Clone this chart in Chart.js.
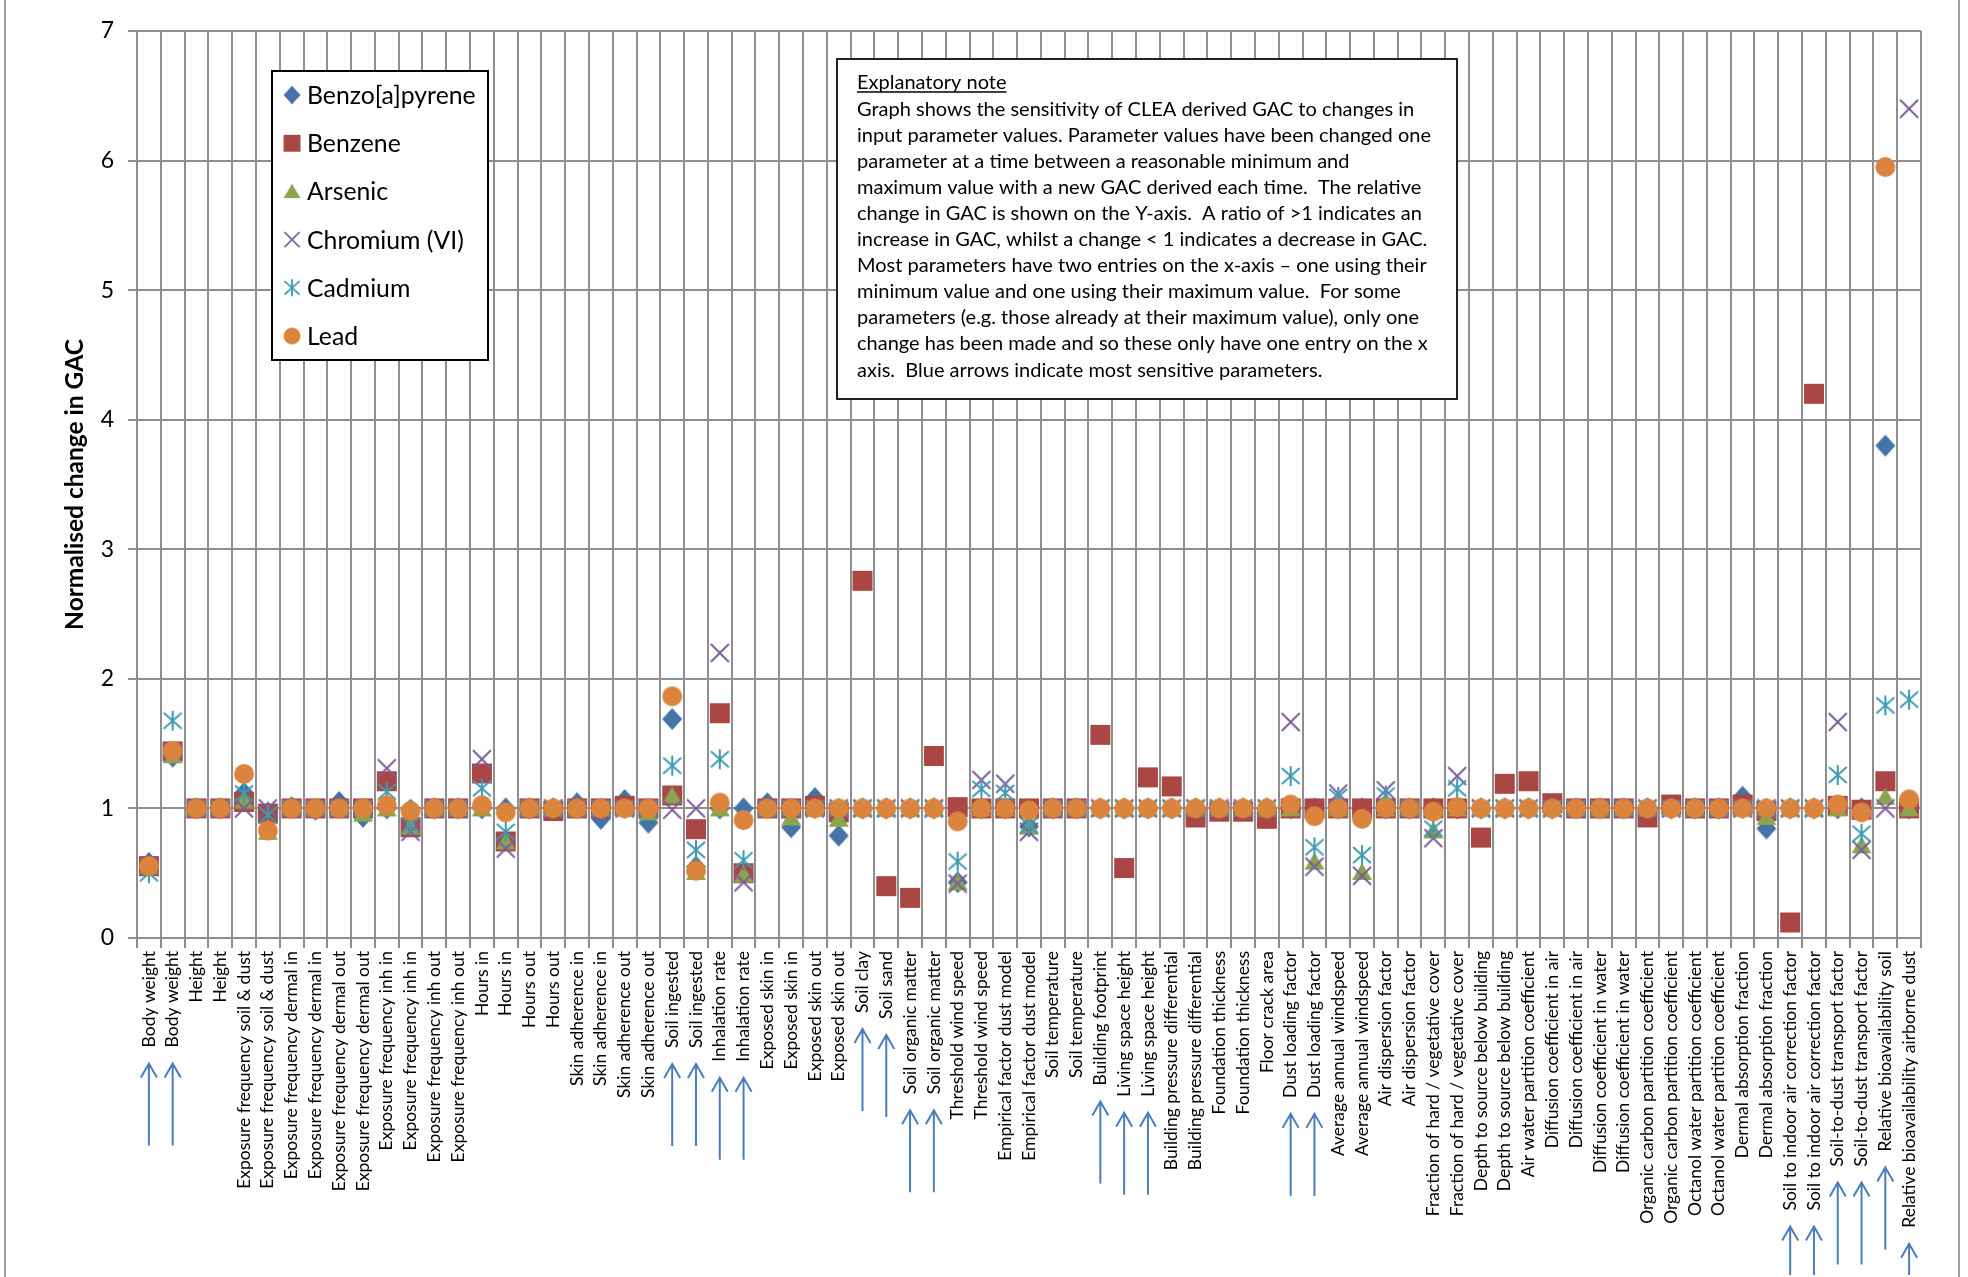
<!DOCTYPE html>
<html>
<head>
<meta charset="utf-8">
<script src="https://cdn.jsdelivr.net/npm/chart.js@4.4.1/dist/chart.umd.min.js"></script>
<style>
  html, body { margin: 0; padding: 0; background: #fff; }
  canvas { display: block; }
</style>
</head>
<body>
<canvas id="chart" width="1968" height="1277"></canvas>
<script>
// ── data ──
var CATEGORIES = [
  'Body weight','Body weight','Height','Height',
  'Exposure frequency soil & dust','Exposure frequency soil & dust',
  'Exposure frequency dermal in','Exposure frequency dermal in',
  'Exposure frequency dermal out','Exposure frequency dermal out',
  'Exposure frequency inh in','Exposure frequency inh in',
  'Exposure frequency inh out','Exposure frequency inh out',
  'Hours in','Hours in','Hours out','Hours out',
  'Skin adherence in','Skin adherence in','Skin adherence out','Skin adherence out',
  'Soil ingested','Soil ingested','Inhalation rate','Inhalation rate',
  'Exposed skin in','Exposed skin in','Exposed skin out','Exposed skin out',
  'Soil clay','Soil sand','Soil organic matter','Soil organic matter',
  'Threshold wind speed','Threshold wind speed',
  'Empirical factor dust model','Empirical factor dust model',
  'Soil temperature','Soil temperature','Building footprint',
  'Living space height','Living space height',
  'Building pressure differential','Building pressure differential',
  'Foundation thickness','Foundation thickness','Floor crack area',
  'Dust loading factor','Dust loading factor',
  'Average annual windspeed','Average annual windspeed',
  'Air dispersion factor','Air dispersion factor',
  'Fraction of hard / vegetative cover','Fraction of hard / vegetative cover',
  'Depth to source below building','Depth to source below building',
  'Air water partition coefficient',
  'Diffusion coefficient in air','Diffusion coefficient in air',
  'Diffusion coefficient in water','Diffusion coefficient in water',
  'Organic carbon partition coefficient','Organic carbon partition coefficient',
  'Octanol water partition coefficient','Octanol water partition coefficient',
  'Dermal absorption fraction','Dermal absorption fraction',
  'Soil to indoor air correction factor','Soil to indoor air correction factor',
  'Soil-to-dust transport factor','Soil-to-dust transport factor',
  'Relative bioavailability soil','Relative bioavailability airborne dust'
];

var BENZO = [
  0.58,1.40,1,1,1.12,0.97,1.01,0.99,1.05,0.935,
  1.0,0.99,1,1,1,1,1,1,1.04,0.92,
  1.065,0.89,1.69,0.55,1,1,1.04,0.855,1.08,0.79,
  1,1,1,1,0.43,1,1,0.86,1,1,
  1,1,1,1,1,1,1,1,1,1,
  1,1,1,1,1,1,1,1,1,1,
  1,1,1,1,1,1,1,1.09,0.845,1,
  1,1,1,3.8,1
];
var BENZENE = [
  0.555,1.44,1,1,1.05,0.96,1,1,1,1,
  1.21,0.855,1,1,1.27,0.745,1,0.98,1,1,
  1.02,1,1.10,0.84,1.735,0.50,1,1,1.02,0.97,
  2.757,0.40,0.31,1.405,1.01,1,1,1,1,1,
  1.568,0.54,1.24,1.17,0.93,0.975,0.975,0.92,1,1,
  1,1,1,1,1,1,0.775,1.19,1.21,1.04,
  1,1,1,0.93,1.03,1,1,1.03,0.98,0.12,
  4.2,1.02,0.99,1.21,1
];
var ARSENIC = [
  0.55,1.41,1,1,1.06,0.82,1,1,1,0.96,
  1,0.86,1,1,1,0.745,1,1,1,1,
  1,0.97,1.10,0.51,1,0.49,1,0.93,1,0.92,
  1,1,1,1,0.43,1,1,0.86,1,1,
  1,1,1,1,1,1,1,1,1,0.59,
  1,0.51,1,1,0.83,1,1,1,1,1,
  1,1,1,1,1,1,1,1,0.935,1,
  1,1,0.715,1.09,1
];
var CHROMIUM = [
  0.55,1.44,1,1,1.0,1.0,1,1,1,1,
  1.31,0.82,1,1,1.38,0.69,1,1,1,1,
  1,1,0.99,1.0,2.20,0.43,1,1,1,1,
  1,1,1,1,0.42,1.22,1.19,0.82,1,1,
  1,1,1,1,1,1,1,1,1.667,0.55,
  1.115,0.48,1.14,1,0.77,1.25,1,1,1,1,
  1,1,1,1,1,1,1,1,1,1,
  1,1.667,0.68,1.0,6.4
];
var CADMIUM = [
  0.50,1.677,1,1,1.116,0.95,1,1,1,1,
  1.13,0.87,1,1,1.155,0.82,1,1,1,1,
  1,1,1.33,0.68,1.38,0.60,1,1,1,1,
  1,1,1,1,0.59,1.15,1.12,0.87,1,1,
  1,1,1,1,1,1,1,1,1.25,0.70,
  1.09,0.64,1.1,1,0.845,1.155,1,1,1,1,
  1,1,1,1,1,1,1,1,1,1,
  1,1.258,0.805,1.795,1.84
];
var LEAD = [
  0.555,1.444,1,1,1.266,0.83,1,1,1,1,
  1.025,0.98,1,1,1.025,0.97,1,1,1,1,
  1,1,1.865,0.52,1.045,0.91,1,1,1,1,
  1,1,1,1,0.90,1,1,0.985,1,1,
  1,1,1,1,1,1,1,1,1.03,0.94,
  1,0.92,1.005,1,0.975,1.01,1,1,1,1,
  1,1,1,1,1,1,1,1,1,1,
  1,1.03,0.97,5.95,1.07
];

var SERIES_NAMES = ['Benzo[a]pyrene','Benzene','Arsenic','Chromium (VI)','Cadmium','Lead'];
var Y_TICKS = [0,1,2,3,4,5,6,7];
// categories marked with a blue arrow (most sensitive parameters)
var ARROW_IDX = [0,1,22,23,24,25,30,31,32,33,40,41,42,48,49,69,70,71,72,73,74];

var NOTE_TITLE = 'Explanatory note';
var NOTE_LINES = [
  'Graph shows the sensitivity of CLEA derived GAC to changes in',
  'input parameter values. Parameter values have been changed one',
  'parameter at a time between a reasonable minimum and',
  'maximum value with a new GAC derived each time.  The relative',
  'change in GAC is shown on the Y-axis.  A ratio of >1 indicates an',
  'increase in GAC, whilst a change < 1 indicates a decrease in GAC.',
  'Most parameters have two entries on the x-axis \u2013 one using their',
  'minimum value and one using their maximum value.  For some',
  'parameters (e.g. those already at their maximum value), only one',
  'change has been made and so these only have one entry on the x',
  'axis.  Blue arrows indicate most sensitive parameters.'
];

// ── styling ──
var FAM = 'Lato, "Open Sans", sans-serif';
var GRID = '#8e8e8e';
var COLORS = ['#4572A7','#AA4643','#89A54E','#7D5C9A','#3D9AB3','#DB843D'];
var KINDS = ['diamond','square','triangle','x','star','circle'];

function fitSize(text, width, weight) {
  var c = document.createElement('canvas').getContext('2d');
  c.font = (weight ? weight + ' ' : '') + '100px ' + FAM;
  return 100 * width / c.measureText(text).width;
}
var xFs = fitSize('Exposure frequency soil & dust', 238);
var noteFs = fitSize(NOTE_LINES[1], 574);
var legFs = fitSize('Chromium (VI)', 157);
var titleFs = fitSize('Normalised change in GAC', 291, 'bold');

function makeMarker(kind, color) {
  var c = document.createElement('canvas'); c.width = 26; c.height = 26;
  var g = c.getContext('2d'), m = 13;
  g.fillStyle = color; g.strokeStyle = color; g.lineWidth = 2;
  g.beginPath();
  if (kind === 'diamond') { g.moveTo(m, m-11); g.lineTo(m+10, m); g.lineTo(m, m+11); g.lineTo(m-10, m); g.closePath(); g.fill(); }
  else if (kind === 'square') { g.fillRect(m-10, m-10, 20, 20); }
  else if (kind === 'triangle') { g.moveTo(m, m-9); g.lineTo(m+10, m+8); g.lineTo(m-10, m+8); g.closePath(); g.fill(); }
  else if (kind === 'x') { g.moveTo(m-9,m-9); g.lineTo(m+9,m+9); g.moveTo(m+9,m-9); g.lineTo(m-9,m+9); g.stroke(); }
  else if (kind === 'star') { g.moveTo(m-9,m-8); g.lineTo(m+9,m+8); g.moveTo(m+9,m-8); g.lineTo(m-9,m+8); g.moveTo(m, m-10); g.lineTo(m, m+10); g.stroke(); }
  else { g.arc(m, m, 10, 0, Math.PI*2); g.fill(); }
  return c;
}
var MARKERS = KINDS.map(function(k, i){ return makeMarker(k, COLORS[i]); });

var decor = {
  id: 'decor',
  afterDraw: function(chart) {
    var ctx = chart.ctx, xs = chart.scales.x;
    ctx.save();
    // outer frame lines
    ctx.strokeStyle = '#a0a0a0'; ctx.lineWidth = 2;
    ctx.beginPath(); ctx.moveTo(5, 0); ctx.lineTo(5, chart.height); ctx.moveTo(1959, 0); ctx.lineTo(1959, chart.height); ctx.stroke();

    // blue arrows under the sensitive parameters
    ctx.font = xFs + 'px ' + FAM;
    ctx.strokeStyle = '#4A7EBB'; ctx.lineWidth = 2;
    ARROW_IDX.forEach(function(i){
      var x = xs.getPixelForTick(i);
      var tip = xs.top + 13 + ctx.measureText(CATEGORIES[i]).width + 16;
      var end = Math.min(tip + 82, chart.height - 2);
      ctx.beginPath();
      ctx.moveTo(x, end); ctx.lineTo(x, tip);
      ctx.moveTo(x - 8, tip + 14); ctx.lineTo(x, tip); ctx.lineTo(x + 8, tip + 14);
      ctx.stroke();
    });

    // legend
    ctx.fillStyle = '#fff'; ctx.fillRect(272, 71, 216, 289);
    ctx.strokeStyle = '#000'; ctx.lineWidth = 2; ctx.strokeRect(272, 71, 216, 289);
    ctx.font = legFs + 'px ' + FAM; ctx.textBaseline = 'middle'; ctx.textAlign = 'left';
    SERIES_NAMES.forEach(function(name, k){
      var cy = 95 + 48.2 * k;
      ctx.drawImage(MARKERS[k], 292 - 11, cy - 11, 22, 22);
      ctx.fillStyle = '#000'; ctx.fillText(name, 307, cy + 1);
    });

    // explanatory note
    ctx.fillStyle = '#fff'; ctx.fillRect(837, 59, 620, 340);
    ctx.strokeStyle = '#222'; ctx.lineWidth = 2; ctx.strokeRect(837, 59, 620, 340);
    ctx.font = noteFs + 'px ' + FAM; ctx.fillStyle = '#000';
    ctx.fillText(NOTE_TITLE, 857, 83);
    var w = ctx.measureText(NOTE_TITLE).width;
    ctx.lineWidth = 1.3; ctx.strokeStyle = '#000';
    ctx.beginPath(); ctx.moveTo(857, 83 + noteFs*0.45); ctx.lineTo(857 + w, 83 + noteFs*0.45); ctx.stroke();
    NOTE_LINES.forEach(function(line, k){ ctx.fillText(line, 857, 83 + 26.1 * (k + 1)); });
    ctx.restore();
  }
};

var datasets = [BENZO, BENZENE, ARSENIC, CHROMIUM, CADMIUM, LEAD].map(function(vals, i){
  return {
    label: SERIES_NAMES[i], data: vals, showLine: false,
    pointStyle: MARKERS[i], pointRadius: 11, pointHoverRadius: 11,
    borderColor: COLORS[i], backgroundColor: COLORS[i],
    order: 6 - i, clip: false
  };
});

new Chart(document.getElementById('chart'), {
  type: 'line',
  data: { labels: CATEGORIES, datasets: datasets },
  plugins: [decor],
  options: {
    responsive: false, animation: false, devicePixelRatio: 1,
    layout: { padding: { top: 31, right: 47, left: 0, bottom: 0 } },
    plugins: { legend: { display: false }, tooltip: { enabled: false } },
    scales: {
      x: {
        offset: true,
        grid: { offset: true, color: GRID, lineWidth: 2, tickLength: 10 },
        border: { color: GRID, width: 2 },
        ticks: { autoSkip: false, maxRotation: 90, minRotation: 90, padding: 3, color: '#000', font: { family: FAM, size: xFs } },
        afterFit: function(s){ s.height = 339; }
      },
      y: {
        min: Y_TICKS[0], max: Y_TICKS[Y_TICKS.length - 1],
        afterBuildTicks: function(s){ s.ticks = Y_TICKS.map(function(v){ return { value: v }; }); },
        grid: { color: GRID, lineWidth: 2, tickLength: 9 },
        border: { color: GRID, width: 2 },
        ticks: { padding: 14, color: '#000', font: { family: FAM, size: 23 } },
        title: { display: true, text: 'Normalised change in GAC', color: '#000',
                 font: { family: FAM, size: titleFs, weight: 'bold' },
                 padding: { top: 75 - titleFs * 0.6, bottom: 0 } },
        afterFit: function(s){ s.width = 137; }
      }
    }
  }
});
</script>
</body>
</html>
